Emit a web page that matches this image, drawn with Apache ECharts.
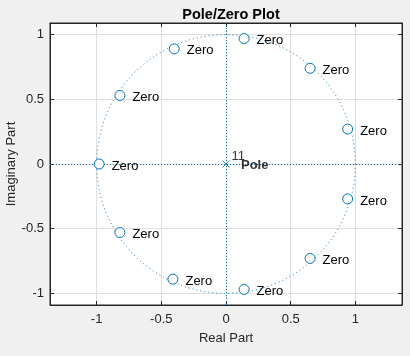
<!DOCTYPE html>
<html><head><meta charset="utf-8">
<script src="https://cdn.jsdelivr.net/npm/echarts@6/dist/echarts.min.js"></script>
<style>html,body{margin:0;padding:0;background:#f0f0f0}#c{width:410px;height:356px}</style>
</head><body><div id="c"></div>
<script>
// ---- data ----
const zeroRe = [-0.98, -0.82, -0.40, 0.14, 0.65, 0.94, 0.94, 0.65, 0.14, -0.41, -0.82];
const zeroIm = [0.00, 0.53, 0.89, 0.97, 0.74, 0.27, -0.27, -0.73, -0.97, -0.89, -0.53];
const poleRe = [0];
const poleIm = [0];
const poleMultiplicity = ['11'];
const unitCircle = [[0, 0, 1]]; // centre re, centre im, radius
const xTicks = [-1, -0.5, 0, 0.5, 1];
const yTicks = [-1, -0.5, 0, 0.5, 1];
const xRange = [-1.36, 1.36];
const yRange = [-1.09, 1.09];
const titleText = 'Pole/Zero Plot';
const xName = 'Real Part';
const yName = 'Imaginary Part';
const zeroLabel = 'Zero';
const poleLabel = 'Pole';

const FONT = '"Liberation Sans", Arial, Helvetica, sans-serif';
const AX = '#262626';
const BLUE = '#0072BD';
const GRIDC = '#dfdfdf';

const zeros = zeroRe.map((v, i) => [v, zeroIm[i]]);
const poles = poleRe.map((v, i) => [v, poleIm[i]]);

function fmt(v) { return String(v); }

const chart = echarts.init(document.getElementById('c'), null, {renderer: 'canvas'});
chart.setOption({
  backgroundColor: '#f0f0f0',
  animation: false,
  title: {
    text: titleText, left: 226, top: 2, textAlign: 'center',
    textStyle: {fontFamily: FONT, fontSize: 14.5, fontWeight: 'bold', color: '#000'}
  },
  grid: {left: 50, right: 8, top: 23, bottom: 51, show: true, backgroundColor: '#fff', borderColor: AX, borderWidth: 1,
    containLabel: false, outerBoundsMode: 'none'},
  xAxis: [{
    type: 'value', min: xRange[0], max: xRange[1], position: 'bottom',
    axisLine: {show: true, onZero: false, lineStyle: {color: AX, width: 1}},
    axisTick: {show: true, inside: true, length: 4, customValues: xTicks, lineStyle: {color: AX}},
    axisLabel: {show: true, customValues: xTicks, formatter: fmt, color: AX, fontFamily: FONT, fontSize: 13, margin: 8},
    splitLine: {show: true, lineStyle: {color: GRIDC, width: 1}},
    name: xName, nameLocation: 'middle', nameGap: 27, nameMoveOverlap: false,
    nameTextStyle: {fontFamily: FONT, fontSize: 13, color: AX}
  }, {
    type: 'value', min: xRange[0], max: xRange[1], position: 'top',
    axisLine: {show: true, onZero: false, lineStyle: {color: AX, width: 1}},
    axisTick: {show: true, inside: true, length: 4, customValues: xTicks, lineStyle: {color: AX}},
    axisLabel: {show: false}, splitLine: {show: false}
  }],
  yAxis: [{
    type: 'value', min: yRange[0], max: yRange[1], position: 'left',
    axisLine: {show: true, onZero: false, lineStyle: {color: AX, width: 1}},
    axisTick: {show: true, inside: true, length: 4, customValues: yTicks, lineStyle: {color: AX}},
    axisLabel: {show: true, customValues: yTicks, formatter: fmt, color: AX, fontFamily: FONT, fontSize: 13, margin: 6},
    splitLine: {show: true, lineStyle: {color: GRIDC, width: 1}},
    name: yName, nameLocation: 'middle', nameGap: 32, nameRotate: 90, nameMoveOverlap: false,
    nameTextStyle: {fontFamily: FONT, fontSize: 13, color: AX}
  }, {
    type: 'value', min: yRange[0], max: yRange[1], position: 'right',
    axisLine: {show: true, onZero: false, lineStyle: {color: AX, width: 1}},
    axisTick: {show: true, inside: true, length: 4, customValues: yTicks, lineStyle: {color: AX}},
    axisLabel: {show: false}, splitLine: {show: false}
  }],
  series: [{
    type: 'custom', silent: true, z: 2,
    data: unitCircle,
    encode: {x: 0, y: 1},
    renderItem: function (params, api) {
      const c = api.coord([api.value(0), api.value(1)]);
      const rx = api.size([api.value(2), 0])[0];
      const ry = api.size([0, api.value(2)])[1];
      return {
        type: 'circle',
        shape: {cx: c[0], cy: c[1], r: (rx + ry) / 2},
        style: {fill: 'none', stroke: BLUE, lineWidth: 1, lineDash: [1, 3]}
      };
    },
    markLine: {
      silent: true, symbol: ['none', 'none'], label: {show: false},
      lineStyle: {color: BLUE, width: 1, type: [1, 2], opacity: 1},
      emphasis: {disabled: true},
      data: [{xAxis: 0}, {yAxis: 0}]
    }
  }, {
    type: 'scatter', z: 5, data: zeros,
    symbol: 'circle', symbolSize: 10,
    itemStyle: {color: '#fff', borderColor: BLUE, borderWidth: 1, opacity: 1},
    label: {show: true, formatter: zeroLabel, position: 'right', distance: 7, offset: [0, 2],
      color: '#000', fontFamily: FONT, fontSize: 13}
  }, {
    type: 'scatter', z: 6, data: poles,
    symbol: 'path://M0,0L10,10M10,0L0,10', symbolSize: 7,
    itemStyle: {color: 'none', borderColor: BLUE, borderWidth: 1},
    label: {show: true, formatter: poleLabel, position: 'right', distance: 9, offset: [0, 1],
      color: '#000', fontFamily: FONT, fontSize: 13, fontWeight: 'bold'}
  }, {
    type: 'scatter', z: 6, data: poles,
    symbol: 'circle', symbolSize: 1,
    itemStyle: {color: 'rgba(0,0,0,0)'},
    label: {show: true, formatter: function (p) { return poleMultiplicity[p.dataIndex]; }, position: 'right', distance: 5, offset: [0, -8],
      color: '#000', fontFamily: FONT, fontSize: 13}
  }]
});
</script></body></html>
